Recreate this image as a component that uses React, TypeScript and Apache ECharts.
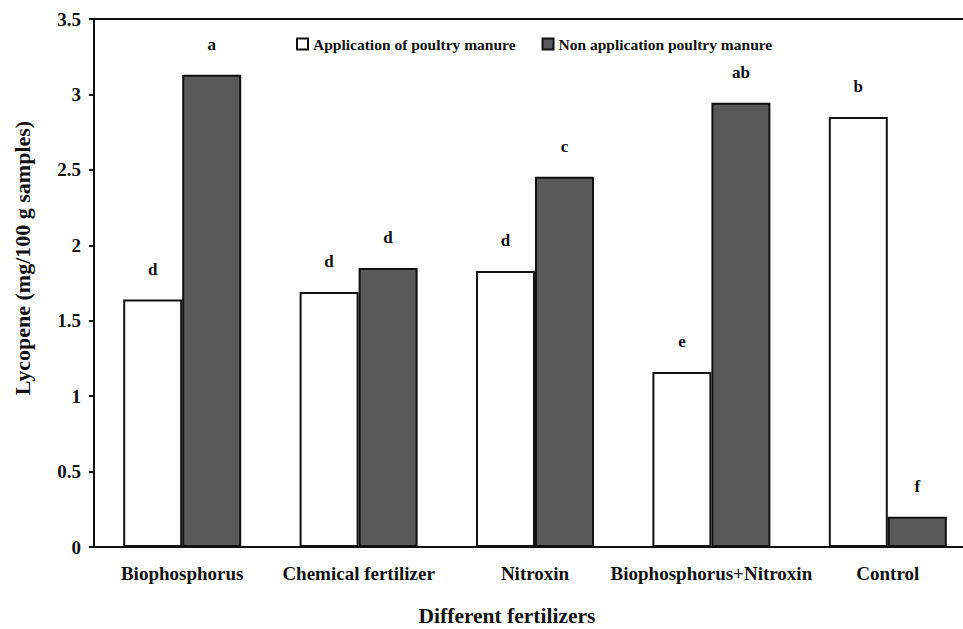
import React, { useEffect, useRef } from "react";
import * as echarts from "echarts";

const categories = ["Biophosphorus", "Chemical fertilizer", "Nitroxin", "Biophosphorus+Nitroxin", "Control"];
const seriesNames = ["Application of poultry manure", "Non application poultry manure"];
const withManure = [1.64, 1.69, 1.83, 1.16, 2.85];
const withoutManure = [3.13, 1.85, 2.455, 2.945, 0.2];
const lettersWith = ["d", "d", "d", "e", "b"];
const lettersWithout = ["a", "d", "c", "ab", "f"];
const yTicks = { min: 0, max: 3.5, interval: 0.5 };

const FONT = "Liberation Serif";

export default function App() {
  const ref = useRef<HTMLDivElement>(null);
  useEffect(() => {
    if (!ref.current) return;
    const chart = echarts.init(ref.current, null, { renderer: "svg" });
    const labelFor = (letters: string[]) => ({
      show: true,
      position: "top",
      distance: 22,
      color: "#111",
      fontFamily: FONT,
      fontWeight: "bold",
      fontSize: 17,
      formatter: (p: any) => letters[p.dataIndex],
    });
    chart.setOption({
      animation: false,
      backgroundColor: "#ffffff",
      textStyle: { fontFamily: FONT },
      grid: { left: 94, top: 19, right: 4, bottom: 82, containLabel: false },
      legend: {
        left: 296,
        top: 36,
        padding: 0,
        icon: "rect",
        itemWidth: 11,
        itemHeight: 11,
        itemGap: 26,
        textStyle: { fontFamily: FONT, fontWeight: "bold", fontSize: 15.5, color: "#111" },
        data: seriesNames,
      },
      xAxis: [
        {
          type: "category",
          data: categories,
          axisLine: { lineStyle: { color: "#111", width: 2 } },
          axisTick: { show: false },
          axisLabel: { color: "#111", fontFamily: FONT, fontWeight: "bold", fontSize: 19, margin: 17, interval: 0 },
        },
        {
          type: "category",
          position: "top",
          data: categories,
          axisLine: { show: true, onZero: false, lineStyle: { color: "#111", width: 2 } },
          axisTick: { show: false },
          axisLabel: { show: false },
        },
      ],
      yAxis: {
        type: "value",
        min: yTicks.min,
        max: yTicks.max,
        interval: yTicks.interval,
        axisLine: { show: true, lineStyle: { color: "#111", width: 2 } },
        axisTick: { show: true, length: 5, lineStyle: { color: "#111", width: 2 } },
        axisLabel: { color: "#111", fontFamily: FONT, fontWeight: "bold", fontSize: 19, margin: 13 },
        splitLine: { show: false },
      },
      graphic: [
        {
          type: "text",
          x: 22,
          y: 258,
          rotation: Math.PI / 2,
          style: {
            text: "Lycopene (mg/100 g samples)",
            fontFamily: FONT,
            fontWeight: "bold",
            fontSize: 22,
            fill: "#111",
            align: "center",
            verticalAlign: "middle",
          },
        },
        {
          type: "text",
          x: 507,
          y: 616,
          style: {
            text: "Different fertilizers",
            fontFamily: FONT,
            fontWeight: "bold",
            fontSize: 21.5,
            fill: "#111",
            align: "center",
            verticalAlign: "middle",
          },
        },
      ],
      series: [
        {
          name: seriesNames[0],
          type: "bar",
          data: withManure,
          barWidth: 59,
          barGap: "0%",
          itemStyle: { color: "#ffffff", borderColor: "#111", borderWidth: 2 },
          label: labelFor(lettersWith),
        },
        {
          name: seriesNames[1],
          type: "bar",
          data: withoutManure,
          barWidth: 59,
          barGap: "0%",
          itemStyle: { color: "#595959", borderColor: "#111", borderWidth: 2 },
          label: labelFor(lettersWithout),
        },
      ],
    });
    return () => chart.dispose();
  }, []);
  return (
    <div style={{ position: "fixed", left: 0, top: 0, width: 963, height: 629, overflow: "hidden", background: "#fff" }}>
      <div ref={ref} style={{ width: 980, height: 629 }} />
    </div>
  );
}
